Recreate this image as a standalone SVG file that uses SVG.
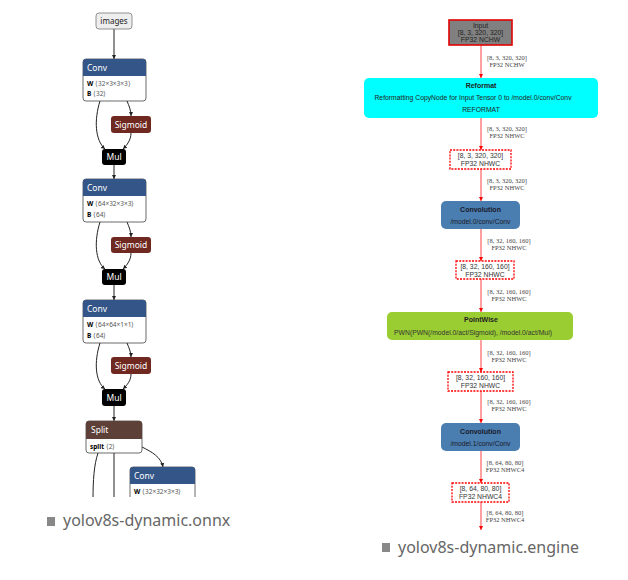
<svg xmlns="http://www.w3.org/2000/svg" width="628" height="580" viewBox="0 0 628 580">
<defs>
<style>
.lt{font-family:"Noto Sans","Open Sans",sans-serif}
.hdr{fill:#fff;font-size:8.5px}
.attr{font-size:6.5px;fill:#000}
.av{fill:#555}
.edge{fill:none;stroke:#222;stroke-width:1}
.redge{fill:none;stroke:#ff4040;stroke-width:1}
.elab{font-family:"Liberation Serif",serif;font-size:6.5px;fill:#444;text-anchor:middle}
.rt{font-family:"Liberation Sans",Arial,sans-serif;text-anchor:middle}
.dash{fill:#fff;stroke:#ff0000;stroke-width:1.3;stroke-dasharray:2,1.2}
.cap{font-family:"Noto Sans","Open Sans",sans-serif;font-size:16px;fill:#666}
</style>
<marker id="ah" viewBox="0 0 6 6" refX="6" refY="3" markerWidth="4" markerHeight="4" orient="auto">
<path d="M0,0 L6,3 L0,6 z" fill="#222"/>
</marker>
<marker id="rh" viewBox="0 0 6 6" refX="6" refY="3" markerWidth="4" markerHeight="4" orient="auto">
<path d="M0,0 L6,3 L0,6 z" fill="#ff0000"/>
</marker>
<clipPath id="lc"><rect x="0" y="0" width="260" height="497"/></clipPath>
</defs>
<rect width="628" height="580" fill="#fff"/>

<g clip-path="url(#lc)">
<g id="left-connectors">
<path class="edge" d="M114,29 L114,59" marker-end="url(#ah)"/>
<path class="edge" d="M100,101 C94,120 95,140 105,149" marker-end="url(#ah)"/>
<path class="edge" d="M127,101 C129,106 131,110 131,116" marker-end="url(#ah)"/>
<path class="edge" d="M131,133 C131,140 127,145 123,149" marker-end="url(#ah)"/>
<path class="edge" d="M114,165 L114,179" marker-end="url(#ah)"/>
<path class="edge" d="M100,222 C94,241 95,261 105,269" marker-end="url(#ah)"/>
<path class="edge" d="M127,222 C129,227 131,231 131,237" marker-end="url(#ah)"/>
<path class="edge" d="M131,253 C131,260 127,265 123,269" marker-end="url(#ah)"/>
<path class="edge" d="M114,285 L114,300" marker-end="url(#ah)"/>
<path class="edge" d="M100,343 C94,362 95,381 105,389" marker-end="url(#ah)"/>
<path class="edge" d="M127,343 C129,348 131,352 131,357" marker-end="url(#ah)"/>
<path class="edge" d="M131,374 C131,381 127,385 123,389" marker-end="url(#ah)"/>
<path class="edge" d="M114,406 L114,421" marker-end="url(#ah)"/>
<path class="edge" d="M98,453 C94,465 93,480 93,500"/>
<path class="edge" d="M114,453 L114,500"/>
<path class="edge" d="M142,447 C152,452 161,457 163,467" marker-end="url(#ah)"/>
</g>

<g id="images">
<rect x="96" y="13" width="36" height="16" rx="3" fill="#eee" stroke="#777" stroke-width="0.8"/>
<text class="lt" x="114" y="24" font-size="8" text-anchor="middle" fill="#222">images</text>
</g>

<g id="conv1">
<rect x="83" y="59" width="63" height="42" rx="3" fill="#fff" stroke="#444" stroke-width="0.8"/>
<path d="M83,76 L83,62 Q83,59 86,59 L143,59 Q146,59 146,62 L146,76 z" fill="#335588"/>
<text class="lt hdr" x="87" y="71">Conv</text>
<text class="lt attr" x="87" y="86"><tspan font-weight="bold">W</tspan><tspan class="av"> ⟨32×3×3×3⟩</tspan></text>
<text class="lt attr" x="87" y="96"><tspan font-weight="bold">B</tspan><tspan class="av"> ⟨32⟩</tspan></text>
</g>
<g id="sigmoid1">
<rect x="111" y="116" width="40" height="17" rx="3" fill="#702921"/>
<text class="lt hdr" x="131" y="127.5" text-anchor="middle">Sigmoid</text>
</g>
<g id="mul1">
<rect x="102" y="149" width="24" height="16" rx="3" fill="#000"/>
<text class="lt hdr" x="114" y="160" text-anchor="middle">Mul</text>
</g>

<g id="conv2">
<rect x="83" y="179" width="63" height="43" rx="3" fill="#fff" stroke="#444" stroke-width="0.8"/>
<path d="M83,196 L83,182 Q83,179 86,179 L143,179 Q146,179 146,182 L146,196 z" fill="#335588"/>
<text class="lt hdr" x="87" y="191">Conv</text>
<text class="lt attr" x="87" y="206"><tspan font-weight="bold">W</tspan><tspan class="av"> ⟨64×32×3×3⟩</tspan></text>
<text class="lt attr" x="87" y="217"><tspan font-weight="bold">B</tspan><tspan class="av"> ⟨64⟩</tspan></text>
</g>
<g id="sigmoid2">
<rect x="111" y="237" width="40" height="16" rx="3" fill="#702921"/>
<text class="lt hdr" x="131" y="248" text-anchor="middle">Sigmoid</text>
</g>
<g id="mul2">
<rect x="102" y="269" width="24" height="16" rx="3" fill="#000"/>
<text class="lt hdr" x="114" y="280" text-anchor="middle">Mul</text>
</g>

<g id="conv3">
<rect x="83" y="300" width="63" height="43" rx="3" fill="#fff" stroke="#444" stroke-width="0.8"/>
<path d="M83,317 L83,303 Q83,300 86,300 L143,300 Q146,300 146,303 L146,317 z" fill="#335588"/>
<text class="lt hdr" x="87" y="312">Conv</text>
<text class="lt attr" x="87" y="327"><tspan font-weight="bold">W</tspan><tspan class="av"> ⟨64×64×1×1⟩</tspan></text>
<text class="lt attr" x="87" y="338"><tspan font-weight="bold">B</tspan><tspan class="av"> ⟨64⟩</tspan></text>
</g>
<g id="sigmoid3">
<rect x="111" y="357" width="40" height="17" rx="3" fill="#702921"/>
<text class="lt hdr" x="131" y="368.5" text-anchor="middle">Sigmoid</text>
</g>
<g id="mul3">
<rect x="102" y="389" width="24" height="17" rx="3" fill="#000"/>
<text class="lt hdr" x="114" y="400.5" text-anchor="middle">Mul</text>
</g>

<g id="split">
<rect x="86" y="421" width="56" height="32" rx="3" fill="#fff" stroke="#444" stroke-width="0.8"/>
<path d="M86,439 L86,424 Q86,421 89,421 L139,421 Q142,421 142,424 L142,439 z" fill="#5D4037"/>
<text class="lt hdr" x="91" y="433">Split</text>
<text class="lt attr" x="90" y="449"><tspan font-weight="bold">split</tspan><tspan class="av"> ⟨2⟩</tspan></text>
</g>

<g id="conv4">
<rect x="130" y="467" width="65" height="45" rx="3" fill="#fff" stroke="#444" stroke-width="0.8"/>
<path d="M130,484 L130,470 Q130,467 133,467 L192,467 Q195,467 195,470 L195,484 z" fill="#335588"/>
<text class="lt hdr" x="134" y="479">Conv</text>
<text class="lt attr" x="134" y="494"><tspan font-weight="bold">W</tspan><tspan class="av"> ⟨32×32×3×3⟩</tspan></text>
</g>
</g>

<g id="caption-left">
<rect x="47" y="517" width="8" height="9" fill="#888"/>
<text class="cap" x="63" y="526">yolov8s-dynamic.onnx</text>
</g>

<g id="right-connectors">
<path class="redge" d="M481,45 L481,78" marker-end="url(#rh)"/>
<path class="redge" d="M481,118 L481,150" marker-end="url(#rh)"/>
<path class="redge" d="M481,169 L481,201" marker-end="url(#rh)"/>
<path class="redge" d="M481,229 L481,261" marker-end="url(#rh)"/>
<path class="redge" d="M481,279 L481,312" marker-end="url(#rh)"/>
<path class="redge" d="M481,340 L481,372" marker-end="url(#rh)"/>
<path class="redge" d="M481,391 L481,423" marker-end="url(#rh)"/>
<path class="redge" d="M481,451 L481,483" marker-end="url(#rh)"/>
<path class="redge" d="M481,502 L481,530" marker-end="url(#rh)"/>
<text class="elab" x="507" y="60"><tspan x="507">[8, 3, 320, 320]</tspan><tspan x="507" dy="7">FP32 NCHW</tspan></text>
<text class="elab" x="507" y="131"><tspan x="507">[8, 3, 320, 320]</tspan><tspan x="507" dy="7">FP32 NHWC</tspan></text>
<text class="elab" x="507" y="183"><tspan x="507">[8, 3, 320, 320]</tspan><tspan x="507" dy="7">FP32 NHWC</tspan></text>
<text class="elab" x="509" y="243"><tspan x="509">[8, 32, 160, 160]</tspan><tspan x="509" dy="7">FP32 NHWC</tspan></text>
<text class="elab" x="509" y="294"><tspan x="509">[8, 32, 160, 160]</tspan><tspan x="509" dy="7">FP32 NHWC</tspan></text>
<text class="elab" x="509" y="355"><tspan x="509">[8, 32, 160, 160]</tspan><tspan x="509" dy="7">FP32 NHWC</tspan></text>
<text class="elab" x="509" y="404"><tspan x="509">[8, 32, 160, 160]</tspan><tspan x="509" dy="7">FP32 NHWC</tspan></text>
<text class="elab" x="505" y="465"><tspan x="505">[8, 64, 80, 80]</tspan><tspan x="505" dy="7">FP32 NHWC4</tspan></text>
<text class="elab" x="505" y="515"><tspan x="505">[8, 64, 80, 80]</tspan><tspan x="505" dy="7">FP32 NHWC4</tspan></text>
</g>

<g id="input">
<rect x="449" y="20" width="63" height="25" fill="#808080" stroke="#e00000" stroke-width="1.6"/>
<text class="rt" font-size="6.8" fill="#222"><tspan x="480.5" y="28">Input</tspan><tspan x="480.5" y="35">[8, 3, 320, 320]</tspan><tspan x="480.5" y="42">FP32 NCHW</tspan></text>
</g>
<g id="reformat">
<rect x="364" y="78" width="234" height="40" rx="5" fill="#00ffff"/>
<text class="rt" x="481" y="88" font-size="7" font-weight="bold" fill="#222">Reformat</text>
<text class="rt" x="473" y="100" font-size="6.8" fill="#222">Reformatting CopyNode for Input Tensor 0 to /model.0/conv/Conv</text>
<text class="rt" x="481" y="112" font-size="6.8" fill="#222">REFORMAT</text>
</g>
<g id="t1">
<rect class="dash" x="450" y="150" width="61" height="19"/>
<text class="rt" font-size="6.8" fill="#333"><tspan x="480.5" y="158">[8, 3, 320, 320]</tspan><tspan x="480.5" y="165.5">FP32 NHWC</tspan></text>
</g>
<g id="conv0">
<rect x="441" y="201" width="79" height="28" rx="5" fill="#4a7eb0"/>
<text class="rt" x="480.5" y="211.5" font-size="7" font-weight="bold" fill="#1a1a2a">Convolution</text>
<text class="rt" x="480.5" y="223.5" font-size="6.8" fill="#1a1a2a">/model.0/conv/Conv</text>
</g>
<g id="t2">
<rect class="dash" x="456" y="261" width="58" height="18"/>
<text class="rt" font-size="6.8" fill="#333"><tspan x="485" y="269">[8, 32, 160, 160]</tspan><tspan x="485" y="276.5">FP32 NHWC</tspan></text>
</g>
<g id="pointwise">
<rect x="387" y="312" width="186" height="28" rx="5" fill="#9acd32"/>
<text class="rt" x="481" y="322" font-size="7" font-weight="bold" fill="#222">PointWise</text>
<text class="rt" x="473" y="334.5" font-size="6.8" fill="#333">PWN(PWN(/model.0/act/Sigmoid), /model.0/act/Mul)</text>
</g>
<g id="t3">
<rect class="dash" x="448" y="372" width="65" height="19"/>
<text class="rt" font-size="6.8" fill="#333"><tspan x="480.5" y="380">[8, 32, 160, 160]</tspan><tspan x="480.5" y="387.5">FP32 NHWC</tspan></text>
</g>
<g id="conv1e">
<rect x="441" y="423" width="79" height="28" rx="5" fill="#4a7eb0"/>
<text class="rt" x="480.5" y="433.5" font-size="7" font-weight="bold" fill="#1a1a2a">Convolution</text>
<text class="rt" x="480.5" y="445.5" font-size="6.8" fill="#1a1a2a">/model.1/conv/Conv</text>
</g>
<g id="t4">
<rect class="dash" x="452" y="483" width="57" height="19"/>
<text class="rt" font-size="6.8" fill="#333"><tspan x="480.5" y="491">[8, 64, 80, 80]</tspan><tspan x="480.5" y="498.5">FP32 NHWC4</tspan></text>
</g>

<g id="caption-right">
<rect x="382" y="543" width="8" height="9" fill="#888"/>
<text class="cap" x="398" y="553">yolov8s-dynamic.engine</text>
</g>
</svg>
